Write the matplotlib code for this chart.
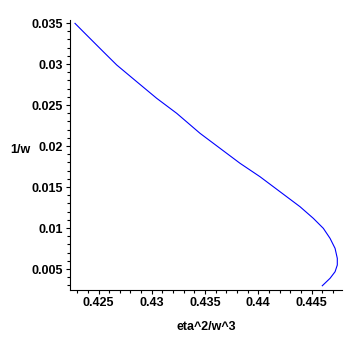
import matplotlib
matplotlib.use("Agg")
import matplotlib.pyplot as plt
from matplotlib.ticker import MultipleLocator

# values
x_vals = [0.42279, 0.42357, 0.42545, 0.42671, 0.42859, 0.43046, 0.43234,
          0.43453, 0.43641, 0.43829, 0.44016, 0.44204, 0.44392, 0.44517,
          0.44611, 0.44674, 0.44721, 0.44742, 0.44742, 0.44721, 0.44674,
          0.44601]
y_vals = [0.03496, 0.03394, 0.03150, 0.02988, 0.02784, 0.02582, 0.02399,
          0.02155, 0.01972, 0.01789, 0.01626, 0.01443, 0.01260, 0.01118,
          0.00996, 0.00874, 0.00752, 0.00630, 0.00549, 0.00467, 0.00387,
          0.00296]

x_ticks = [0.425, 0.43, 0.435, 0.44, 0.445]
x_labels = ["0.425", "0.43", "0.435", "0.44", "0.445"]
y_ticks = [0.005, 0.01, 0.015, 0.02, 0.025, 0.03, 0.035]
y_labels = ["0.005", "0.01", "0.015", "0.02", "0.025", "0.03", "0.035"]

plt.rcParams['font.family'] = ['Liberation Sans', 'DejaVu Sans']
plt.rcParams['font.weight'] = 'bold'

fig = plt.figure(figsize=(3.46, 3.46), dpi=100)
ax = fig.add_axes([0.2023, 0.1618, 0.7861, 0.7804])

ax.plot(x_vals, y_vals, color='#0000ff', linewidth=0.8)

ax.set_xlim(0.42232, 0.44786)
ax.set_ylim(0.00244, 0.03537)
ax.set_xticks(x_ticks)
ax.set_xticklabels(x_labels, fontweight='bold')
ax.set_yticks(y_ticks)
ax.set_yticklabels(y_labels, fontweight='bold')
ax.xaxis.set_minor_locator(MultipleLocator(0.001))
ax.yaxis.set_minor_locator(MultipleLocator(0.001))
ax.tick_params(which='major', length=3, width=0.8, labelsize=9, pad=2)
ax.tick_params(which='minor', length=2, width=0.8)

for s in ['top', 'right']:
    ax.spines[s].set_visible(False)
for s in ['left', 'bottom']:
    ax.spines[s].set_linewidth(0.8)

fig.text(0.06, 0.566, "1/w", fontsize=9, fontweight='bold', ha='center', va='center')
fig.text(0.595, 0.055, "eta^2/w^3", fontsize=9, fontweight='bold', ha='center', va='center')

fig.savefig("out.png", dpi=100)
